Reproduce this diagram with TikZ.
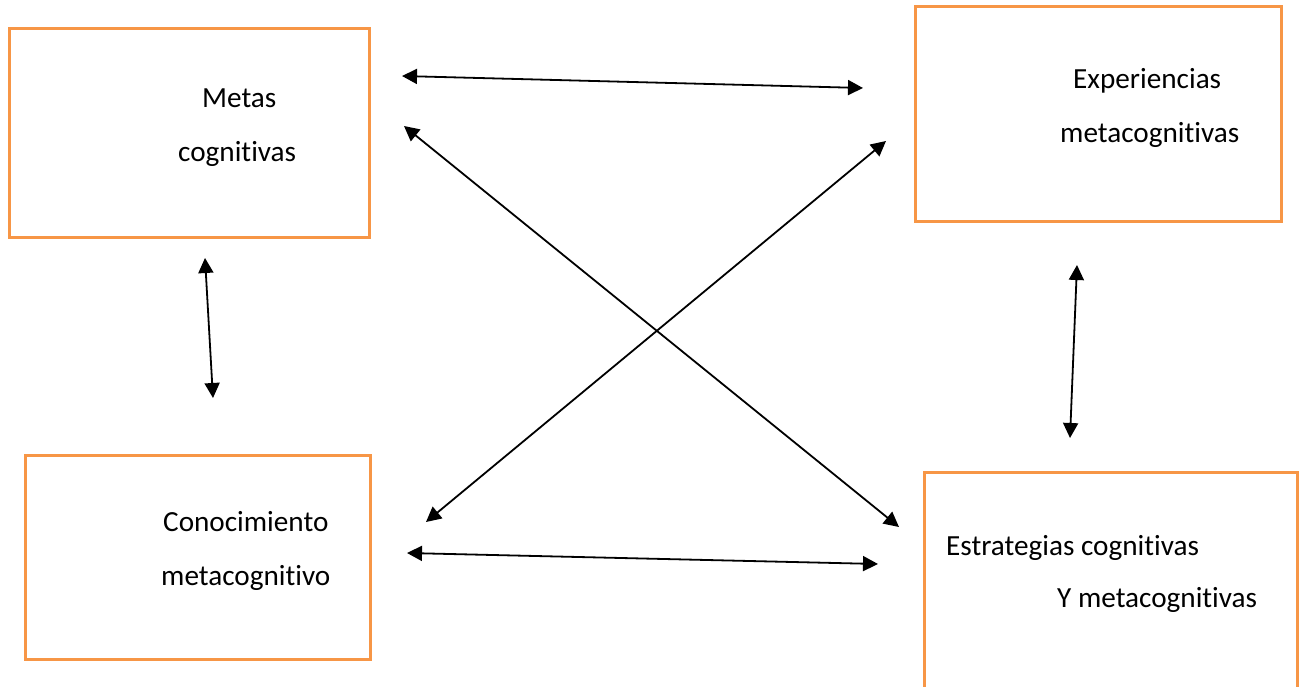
\documentclass[tikz,border=0pt]{standalone}
\usepackage{fontspec}
\setmainfont{Carlito}[Ligatures={NoCommon}]
\usetikzlibrary{arrows.meta}
\definecolor{boxorange}{RGB}{247,150,70}
\begin{document}
\begin{tikzpicture}[x=1pt,y=-1pt,
  box/.style={draw=boxorange,line width=3pt,rectangle,inner sep=0pt},
  lbl/.style={anchor=base west,inner sep=0pt,font=\fontsize{29.2}{35}\selectfont},
  conn/.style={line width=1.8pt,{Triangle[length=15pt,width=15pt]}-{Triangle[length=15pt,width=15pt]}}]
\useasboundingbox (0,0) rectangle (1299,687);
\clip (0,0) rectangle (1299,687);
\node[box,minimum width=360pt,minimum height=209pt] (b1) at (189,133.5) {};
\node[box,minimum width=366pt,minimum height=215pt] (b2) at (1098,114.5) {};
\node[box,minimum width=345pt,minimum height=204pt] (b3) at (197.5,557) {};
\node[box,minimum width=373pt,minimum height=250pt] (b4) at (1110.5,597) {};
\node[lbl] (t1a) at (202,108) {Metas};
\node[lbl] (t1b) at (178,162) {cognitivas};
\node[lbl] (t2a) at (1073,89) {Experiencias};
\node[lbl] (t2b) at (1060,143) {metacognitivas};
\node[lbl] (t3a) at (163,531) {Conocimiento};
\node[lbl] (t3b) at (161,585) {metacognitivo};
\node[lbl] (t4a) at (946,555) {Estrategias cognitivas};
\node[lbl] (t4b) at (1057,607) {Y metacognitivas};
\coordinate (h1a) at (402,76);
\coordinate (h1b) at (863,88);
\coordinate (h2a) at (407,553);
\coordinate (h2b) at (878,564);
\coordinate (d1a) at (404,126);
\coordinate (d1b) at (899,527);
\coordinate (d2a) at (886,141);
\coordinate (d2b) at (426,522);
\coordinate (v1a) at (205,258);
\coordinate (v1b) at (213,398);
\coordinate (v2a) at (1077,265);
\coordinate (v2b) at (1070,438);
\draw[conn] (h1a) -- (h1b);
\draw[conn] (h2a) -- (h2b);
\draw[conn] (d1a) -- (d1b);
\draw[conn] (d2a) -- (d2b);
\draw[conn] (v1a) -- (v1b);
\draw[conn] (v2a) -- (v2b);
\end{tikzpicture}
\end{document}
